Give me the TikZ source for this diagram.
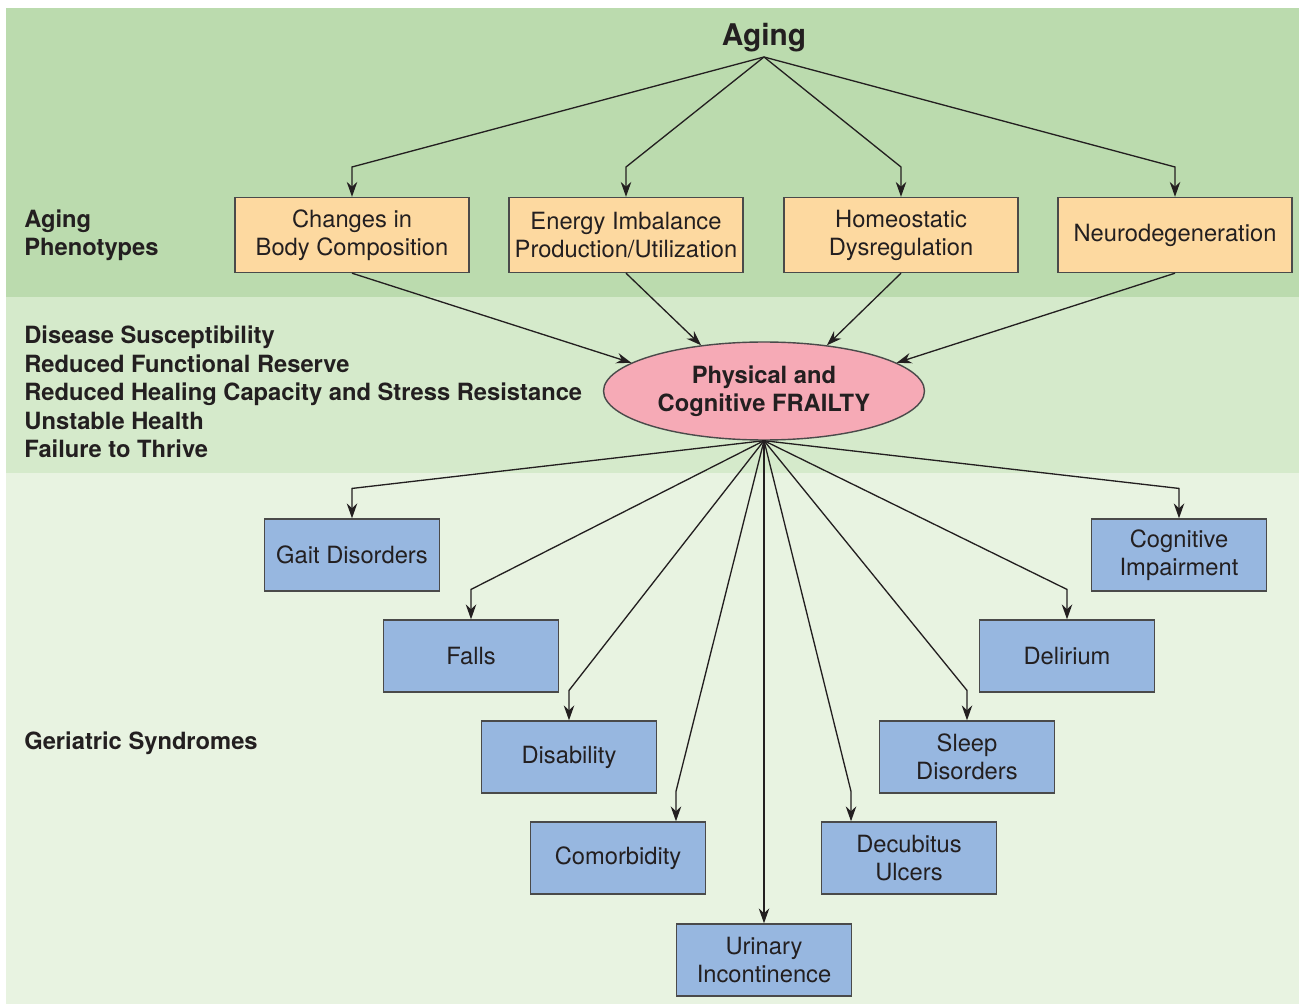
\documentclass[tikz,border=0pt]{standalone}
\usepackage{fontspec}
\setmainfont{TeX Gyre Heros}
\usetikzlibrary{arrows.meta}
\usetikzlibrary{shapes.geometric}
\definecolor{bandtop}{HTML}{BBDBAE}
\definecolor{bandmid}{HTML}{D5EACB}
\definecolor{bandlow}{HTML}{E8F3E1}
\definecolor{phenfill}{HTML}{FDD9A0}
\definecolor{frailfill}{HTML}{F6AAB6}
\definecolor{syndfill}{HTML}{97B7E0}
\definecolor{boxline}{HTML}{4A4A4A}
\definecolor{textdark}{HTML}{231F20}
\newcommand{\boxfont}{\fontsize{13.5}{16}\selectfont}
\newcommand{\sidefont}{\fontsize{13.5}{16.2}\selectfont\bfseries}
\newcommand{\titlefont}{\fontsize{17}{20}\selectfont\bfseries}
\tikzset{phen/.style = {draw = boxline, fill = phenfill, line width = 0.8pt, minimum width = 4.68cm, minimum height = 1.5cm, align = center, font = \boxfont}}
\tikzset{synd/.style = {draw = boxline, fill = syndfill, line width = 0.8pt, minimum width = 3.5cm, minimum height = 1.44cm, align = center, font = \boxfont}}
\tikzset{frail/.style = {ellipse, draw = boxline, fill = frailfill, line width = 0.8pt, minimum width = 6.42cm, minimum height = 1.96cm, inner sep = 0, align = center, font = \boxfont\bfseries}}
\tikzset{side/.style = {anchor = west, inner sep = 0, align = left, font = \sidefont}}
\tikzset{link/.style = {-{Stealth[length = 8.5pt, width = 6pt]}, line width = 0.75pt, draw = textdark}}

\begin{document}
\begin{tikzpicture}[x = 0.02cm, y = -0.02cm, every node/.append style = {text = textdark}]
      \useasboundingbox (0, 0) rectangle (1304, 1006);
      \fill [bandtop] (6, 8) rectangle (1299, 297);
      \fill [bandmid] (6, 297) rectangle (1299, 473);
      \fill [bandlow] (6, 473) rectangle (1299, 1004);

      \node [font = \titlefont] (aging) at (764, 38) {Aging};
      \coordinate (split) at (764, 57);
      \coordinate (hinge) at (0, 167);
      \node [side] (phenlabel) at (24, 235) {Aging\\Phenotypes};
      \node [side] (susclabel) at (24, 392) {Disease Susceptibility\\Reduced Functional Reserve\\Reduced Healing Capacity and Stress Resistance\\Unstable Health\\Failure to Thrive};
      \node [side] (syndlabel) at (24, 743) {Geriatric Syndromes};

      \node [phen] (body) at (352, 235) {Changes in\\Body Composition};
      \node [phen] (energy) at (626, 235) {Energy Imbalance\\Production/Utilization};
      \node [phen] (homeo) at (901, 235) {Homeostatic\\Dysregulation};
      \node [phen] (neuro) at (1175, 235) {Neurodegeneration};
      \node [frail] (frailty) at (764, 391) {Physical and\\Cognitive FRAILTY};

      \node [synd] (gait) at (352, 555) {Gait Disorders};
      \node [synd] (falls) at (471, 656) {Falls};
      \node [synd] (disab) at (569, 757) {Disability};
      \node [synd] (comorb) at (618, 858) {Comorbidity};
      \node [synd] (urin) at (764, 960) {Urinary\\Incontinence};
      \node [synd] (decub) at (909, 858) {Decubitus\\Ulcers};
      \node [synd] (sleep) at (967, 757) {Sleep\\Disorders};
      \node [synd] (delir) at (1067, 656) {Delirium};
      \node [synd] (cogn) at (1179, 555) {Cognitive\\Impairment};

      \foreach \n in {body, energy, homeo, neuro}
        \draw [link] (split) -- (\n.north |- hinge) -- (\n.north);
      \draw [link] (body.south) -- (frailty.168);
      \draw [link] (energy.south) -- (frailty.144);
      \draw [link] (homeo.south) -- (frailty.36);
      \draw [link] (neuro.south) -- (frailty.12);

      \foreach \n/\dx in {gait/0, falls/0, disab/0, comorb/33, decub/-33, sleep/0, delir/0, cogn/0}
        \draw [link] (frailty.south) -- ([xshift = \dx pt, yshift = 17pt]\n.north) -- ([xshift = \dx pt]\n.north);
      \draw [link] (frailty.south) -- (urin.north);
    \end{tikzpicture}
\end{document}
